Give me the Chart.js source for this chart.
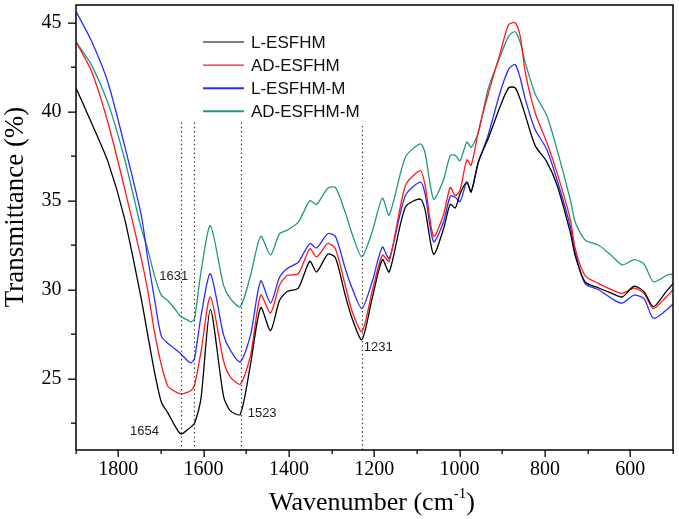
<!DOCTYPE html>
<html>
<head>
<meta charset="utf-8">
<script src="https://cdn.jsdelivr.net/npm/chart.js@4.4.1/dist/chart.umd.min.js"></script>
<style>
  html, body { margin: 0; padding: 0; background: #fff; overflow: hidden; }
  #wrap { width: 679px; height: 519px; }
  canvas { display: block; }
</style>
</head>
<body>
<div id="wrap"><canvas id="myChart" width="679" height="519"></canvas></div>
<script>
// wavenumbers (cm-1)
const wavenumber = [1898, 1863, 1824, 1785, 1746, 1731, 1715, 1699, 1684, 1668, 1653, 1637, 1629, 1621, 1606, 1584,
  1553, 1537, 1514, 1490, 1466, 1443, 1422, 1404, 1378, 1351, 1335, 1309, 1291, 1268, 1252, 1229, 1205, 1181, 1165,
  1127, 1092, 1081, 1061, 1038, 1022, 1010, 999, 983, 973, 956, 933, 905, 885, 870, 858, 846, 823, 796, 772, 741,
  729, 706, 674, 643, 619, 591, 568, 546, 516, 500];

const lEsfhm = [41.3, 39.4, 37.2, 34.0, 29.5, 27.5, 25.4, 23.7, 23.1, 22.4, 21.9, 22.15, 22.3, 22.5, 23.9, 28.9,
  24.0, 23.2, 23.0, 25.8, 29.0, 27.7, 29.4, 29.9, 30.1, 31.6, 31.0, 32.0, 31.8, 29.7, 28.4, 27.2, 29.5, 31.7, 31.0,
  34.65, 35.1, 34.5, 32.0, 33.4, 34.8, 34.6, 35.4, 36.05, 35.5, 37.2, 38.5, 40.3, 41.35, 41.35, 40.7, 39.8, 38.1, 37.2, 35.9, 33.25,
  31.9, 30.45, 30.1, 29.8, 29.6, 30.2, 29.9, 29.05, 29.9, 30.35];

const adEsfhm = [43.9, 42.3, 39.4, 35.7, 31.75, 30.0, 27.65, 25.8, 24.6, 24.3, 24.15, 24.25, 24.35, 24.65, 26.5, 29.6,
  26.0, 25.1, 24.7, 26.3, 29.7, 28.7, 30.25, 30.8, 30.9, 32.3, 31.85, 32.6, 32.3, 30.25, 28.8, 27.65, 29.9, 31.95, 31.6,
  35.85, 36.7, 35.9, 33.0, 34.2, 35.75, 35.3, 35.6, 37.3, 37.0, 38.9, 41.0, 43.3, 44.9, 45.0, 44.25, 42.2, 39.95, 38.3, 36.6, 34.0,
  32.3, 30.8, 30.35, 30.0, 29.8, 30.1, 29.8, 28.95, 29.6, 30.0];

const lEsfhmM = [45.6, 44.0, 41.65, 38.1, 34.2, 31.8, 29.5, 27.4, 27.0, 26.7, 26.4, 26.0, 25.9, 26.15, 28.5, 30.9,
  27.45, 26.6, 25.95, 27.45, 30.5, 29.25, 30.7, 31.2, 31.55, 32.6, 32.35, 33.15, 33.0, 31.2, 30.1, 28.95, 30.45, 32.4, 31.75,
  35.3, 36.05, 35.4, 32.7, 33.8, 35.25, 35.2, 34.95, 36.05, 35.5, 37.15, 38.7, 41.1, 42.4, 42.65, 41.9, 40.7, 39.0, 37.9, 36.2, 33.6,
  32.1, 30.35, 30.0, 29.5, 29.25, 29.7, 29.5, 28.4, 28.85, 29.2];

const adEsfhmM = [43.9, 42.65, 40.5, 37.35, 33.45, 32.3, 30.8, 29.7, 29.4, 28.95, 28.5, 28.3, 28.2, 28.4, 31.0, 33.6,
  30.25, 29.5, 29.05, 30.8, 33.0, 31.95, 33.15, 33.35, 33.8, 35.0, 34.8, 35.7, 35.75, 34.35, 33.15, 31.85, 33.25, 35.15, 34.2,
  37.45, 38.2, 37.7, 35.1, 36.15, 37.55, 37.55, 37.25, 38.3, 38.0, 38.85, 41.3, 43.1, 44.25, 44.5, 43.9, 42.75, 41.0, 39.8, 37.9, 35.1,
  33.8, 32.8, 32.5, 31.9, 31.4, 31.7, 31.45, 30.45, 30.8, 30.9];

const seriesNames = ["L-ESFHM", "AD-ESFHM", "L-ESFHM-M", "AD-ESFHM-M"];
const seriesColors = ["#000000", "#ff1a1a", "#2b2bff", "#1f9684"];

// axis ticks (major ones carry a label)
const xTickValues = [500, 600, 700, 800, 900, 1000, 1100, 1200, 1300, 1400, 1500, 1600, 1700, 1800, 1900];
const xTickLabels = [600, 800, 1000, 1200, 1400, 1600, 1800];
const yTickValues = [22.5, 25, 27.5, 30, 32.5, 35, 37.5, 40, 42.5, 45];
const yTickLabels = [25, 30, 35, 40, 45];

// dotted marker lines and their labels
const markerPos = [1653, 1622, 1513, 1229];
const markerLabels = ["1654", "1631", "1523", "1231"];

const xTitle = "Wavenumber (cm";
const xTitleSup = "-1";
const yTitle = "Transmittance (%)";

var allSeries = [lEsfhm, adEsfhm, lEsfhmM, adEsfhmM];
var datasets = allSeries.map((vals, k) => ({
  label: seriesNames[k],
  data: wavenumber.map((w, i) => ({ x: w, y: vals[i] })),
  borderColor: seriesColors[k],
  borderWidth: 1.3,
  pointRadius: 0,
  tension: 0.25,
}));

const framePlugin = {
  id: "frame",
  afterDraw(chart) {
    const ctx = chart.ctx;
    const a = chart.chartArea;
    const xs = chart.scales.x;
    const ys = chart.scales.y;
    ctx.save();

    // dotted lines
    ctx.strokeStyle = "#333";
    ctx.lineWidth = 1.2;
    ctx.setLineDash([1.3, 3]);
    markerPos.forEach((w, i) => {
      const x = Math.round(xs.getPixelForValue(w)) + 0.5;
      const top = i === 3 ? ys.getPixelForValue(39.2) : ys.getPixelForValue(39.4);
      ctx.beginPath();
      ctx.moveTo(x, top);
      ctx.lineTo(x, a.bottom);
      ctx.stroke();
    });
    ctx.setLineDash([]);

    // marker labels
    const offs = [[-22, 22.07, "right"], [-6, 30.75, "right"], [7, 23.08, "left"], [2, 26.77, "left"]];
    ctx.fillStyle = "#222";
    ctx.font = "13px 'Liberation Sans', Arial, sans-serif";
    ctx.textBaseline = "middle";
    markerLabels.forEach((t, i) => {
      ctx.textAlign = offs[i][2];
      ctx.fillText(t, xs.getPixelForValue(markerPos[i]) + offs[i][0], ys.getPixelForValue(offs[i][1]));
    });

    // box
    const L = Math.round(a.left), R = Math.round(a.right), T = Math.round(a.top), B = Math.round(a.bottom);
    ctx.strokeStyle = "#000";
    ctx.lineWidth = 1.5;
    ctx.beginPath();
    ctx.moveTo(L, T);
    ctx.lineTo(R, T);
    ctx.lineTo(R, B);
    ctx.lineTo(L, B);
    ctx.closePath();
    ctx.stroke();

    // ticks, outward
    ctx.fillStyle = "#000";
    xTickValues.forEach((v) => {
      const x = Math.round(xs.getPixelForValue(v));
      const len = xTickLabels.includes(v) ? 7 : 4;
      ctx.fillRect(x - 0.5, B, 1.3, len);
    });
    yTickValues.forEach((v) => {
      const y = Math.round(ys.getPixelForValue(v));
      const len = yTickLabels.includes(v) ? 8 : 5;
      ctx.fillRect(L - len, y - 0.5, len, 1.3);
    });

    // legend
    ctx.font = "17px 'Liberation Sans', Arial, sans-serif";
    ctx.textAlign = "left";
    ctx.textBaseline = "middle";
    seriesNames.forEach((name, i) => {
      const y = 42 + i * 23.1;
      ctx.strokeStyle = seriesColors[i];
      ctx.lineWidth = i < 2 ? 1.2 : 2;
      ctx.beginPath();
      ctx.moveTo(203, y);
      ctx.lineTo(244, y);
      ctx.stroke();
      ctx.fillStyle = "#111";
      ctx.fillText(name, 251, y + 1);
    });

    // axis titles
    ctx.fillStyle = "#000";
    ctx.font = "26px 'Liberation Serif', 'Times New Roman', serif";
    ctx.textBaseline = "alphabetic";
    const w1 = ctx.measureText(xTitle).width;
    ctx.font = "15px 'Liberation Serif', 'Times New Roman', serif";
    const w2 = ctx.measureText(xTitleSup).width;
    ctx.font = "26px 'Liberation Serif', 'Times New Roman', serif";
    const w3 = ctx.measureText(")").width;
    let x0 = 372 - (w1 + w2 + w3) / 2;
    ctx.fillText(xTitle, x0, 510);
    ctx.font = "15px 'Liberation Serif', 'Times New Roman', serif";
    ctx.fillText(xTitleSup, x0 + w1, 498);
    ctx.font = "26px 'Liberation Serif', 'Times New Roman', serif";
    ctx.fillText(")", x0 + w1 + w2, 510);

    ctx.translate(16, 207);
    ctx.rotate(-Math.PI / 2);
    ctx.font = "27px 'Liberation Serif', 'Times New Roman', serif";
    ctx.textAlign = "center";
    ctx.textBaseline = "middle";
    ctx.fillText(yTitle, 0, 0);
    ctx.restore();
  },
};

const ctx = document.getElementById("myChart");
const myChart = new Chart(ctx, {
  type: "line",
  data: { datasets: datasets },
  options: {
    responsive: false,
    animation: false,
    layout: { padding: { top: 5, right: 6, left: 0, bottom: 0 } },
    plugins: { legend: { display: false }, tooltip: { enabled: false } },
    scales: {
      x: {
        type: "linear",
        reverse: true,
        min: 500,
        max: 1900,
        grid: { display: false, drawTicks: false },
        border: { display: false },
        afterBuildTicks: (s) => { s.ticks = xTickLabels.map((v) => ({ value: v })); },
        ticks: {
          autoSkip: false,
          maxRotation: 0,
          padding: 8,
          color: "#000",
          font: { family: "'Liberation Serif', 'Times New Roman', serif", size: 20 },
          callback: (v) => String(v),
        },
        afterFit: (s) => { s.height = 69; s.paddingLeft = 0; s.paddingRight = 0; },
      },
      y: {
        min: 21,
        max: 46,
        grid: { display: false, drawTicks: false },
        border: { display: false },
        afterBuildTicks: (s) => { s.ticks = yTickLabels.map((v) => ({ value: v })); },
        ticks: {
          padding: 14,
          color: "#000",
          font: { family: "'Liberation Serif', 'Times New Roman', serif", size: 20 },
          callback: (v) => String(v),
        },
        afterFit: (s) => { s.width = 75.5; s.paddingTop = 0; s.paddingBottom = 0; },
      },
    },
  },
  plugins: [framePlugin],
});
</script>
</body>
</html>
